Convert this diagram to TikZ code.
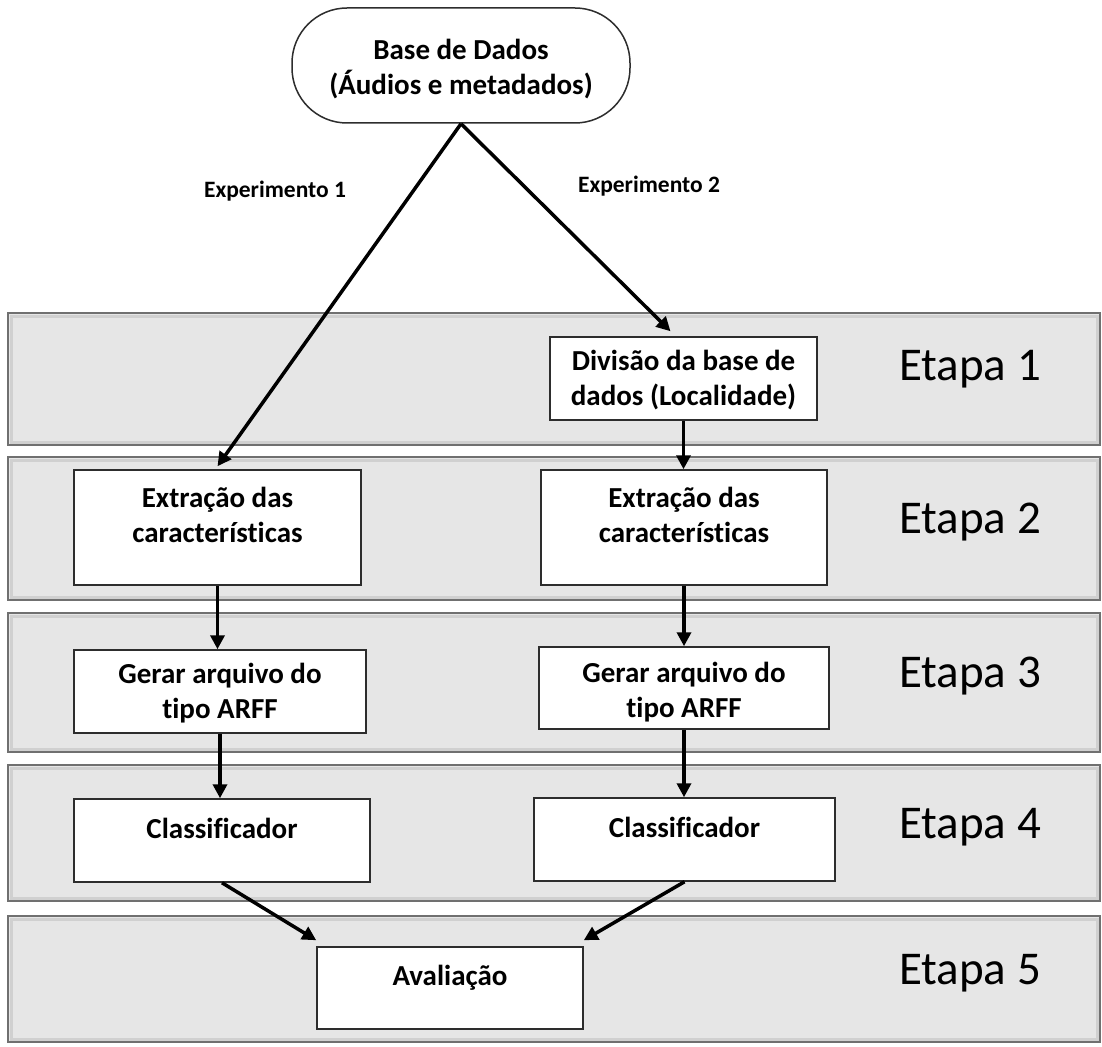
\documentclass[tikz,border=0pt]{standalone}
\usepackage{fontspec}
\setmainfont{Carlito}[Ligatures=NoCommon]
\usepackage{tikz}
\usetikzlibrary{positioning,arrows.meta}
\definecolor{bandfill}{RGB}{230,230,230}
\definecolor{bandline}{RGB}{112,112,112}
\definecolor{bandshade}{RGB}{208,208,208}
\definecolor{boxline}{RGB}{45,45,45}
\tikzset{
  arrow/.style={-{Triangle[length=14pt,width=14pt]}, line width=3.5pt, draw=black},
  band/.style={draw=bandline, fill=bandfill, line width=2pt},
  bandedge/.style={draw=bandshade, line width=3pt},
  stage/.style={font=\fontsize{47}{56}\selectfont, text=black, anchor=base},
  tag/.style={font=\bfseries\fontsize{23.5}{28}\selectfont, text=black, anchor=base},
  block/.style={
    draw=boxline,
    fill=white,
    rectangle,
    line width=1.5pt,
    align=center,
    inner sep=0pt,
    text height=0pt,
    text depth=0pt,
    font=\bfseries\fontsize{29}{35}\selectfont
  },
  source/.style={
    block,
    rounded corners=55pt
  }
}

\begin{document}
\begin{tikzpicture}[x=1pt,y=-1pt]
\useasboundingbox (0,0) rectangle (1102,1046);

% Stage bands
\foreach \t/\b/\n/\y in {313/445/1/380, 457/600/2/533, 613/752/3/687,
                          765/901/4/838, 916/1042/5/984} {
  \draw[band] (8,\t) rectangle (1100,\b);
  \draw[bandedge] (11,\t+3) rectangle (1097,\b-3);
  \node[stage] (etapa\n) at (970,\y) {Etapa \n};
}

\node[source, minimum width=338pt, minimum height=115pt, text height=59pt]
  (db) at (461,65.5) {Base de Dados\\(Áudios e metadados)};

\node[tag] (exp1) at (275,197) {Experimento 1};
\node[tag] (exp2) at (649,192) {Experimento 2};

\node[block, minimum width=267pt, minimum height=83pt, text height=53pt]
  (div) at (683.5,378.5) {Divisão da base de\\dados (Localidade)};

\node[block, minimum width=287pt, minimum height=115pt, text height=29pt]
  (exl) at (217.5,527.5) {Extração das\\características};
\node[block, minimum width=286pt, minimum height=115pt, text height=29pt]
  (exr) at (684,527.5) {Extração das\\características};

\node[block, minimum width=292pt, minimum height=83pt, text height=53pt]
  (gel) at (220,691.5) {Gerar arquivo do\\tipo ARFF};
\node[block, minimum width=290pt, minimum height=82pt, text height=58pt]
  (ger) at (684,688) {Gerar arquivo do\\tipo ARFF};

\node[block, minimum width=296pt, minimum height=83pt, text depth=5pt]
  (cll) at (222,840.5) {Classificador};
\node[block, minimum width=301pt, minimum height=83pt, text depth=5pt]
  (clr) at (684.5,839.5) {Classificador};

\node[block, minimum width=266pt, minimum height=82pt, text depth=6pt]
  (aval) at (450,988) {Avaliação};

% From the data base
\draw[arrow] (db.south) -- ([yshift=3pt]exl.north);
\draw[arrow] (db.south) -- ([xshift=-13pt,yshift=5pt]div.north);

% Down each column
\foreach \a/\b in {div/exr, exl/gel, exr/ger, gel/cll, ger/clr} {
  \draw[arrow] (\a.south) -- (\a.south |- \b.north);
}

% Into the evaluation
\draw[arrow] (cll.south) -- ([yshift=6pt]aval.north west);
\draw[arrow] (clr.south) -- ([yshift=6pt]aval.north east);

\end{tikzpicture}
\end{document}
